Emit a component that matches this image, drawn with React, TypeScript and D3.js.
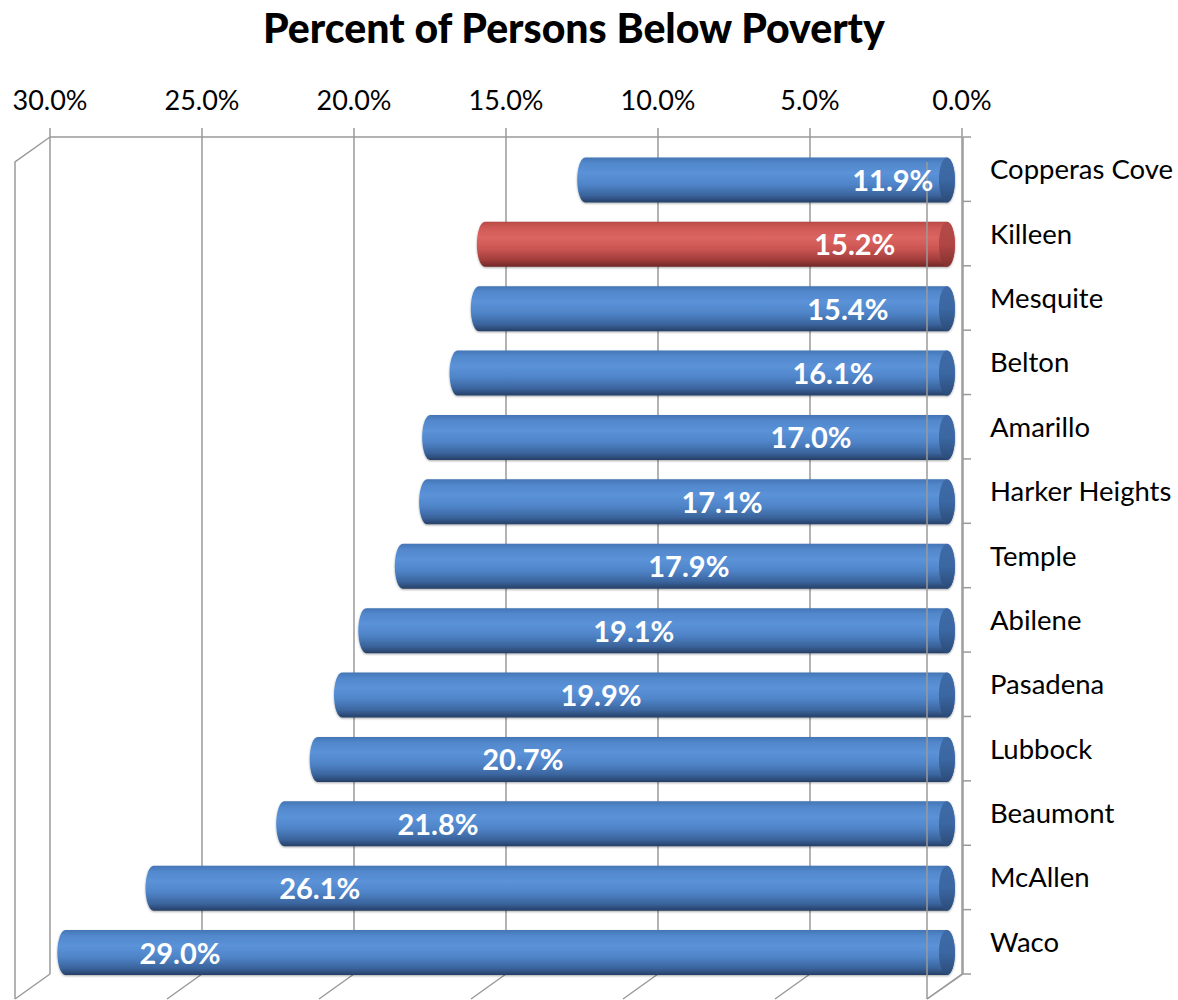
import React from "react";
import * as d3 from "d3";

const categories = [
  "Copperas Cove", "Killeen", "Mesquite", "Belton", "Amarillo", "Harker Heights",
  "Temple", "Abilene", "Pasadena", "Lubbock", "Beaumont", "McAllen", "Waco",
];
const values = [11.9, 15.2, 15.4, 16.1, 17.0, 17.1, 17.9, 19.1, 19.9, 20.7, 21.8, 26.1, 29.0];
// where the value label sits along the axis (in %)
const labelAnchor = [1.78, 3.03, 3.26, 3.75, 4.47, 7.4, 8.49, 10.3, 11.38, 13.95, 16.74, 20.63, 25.23];
const highlighted = ["Killeen"];
const ticks = [30, 25, 20, 15, 10, 5, 0];
const title = "Percent of Persons Below Poverty";

const W = 1178, H = 1000;
const FONT = "Lato, 'Open Sans', sans-serif";

export default function App() {
  // back wall
  const x = d3.scaleLinear().domain([30, 0]).range([50, 962]);
  const y = d3.scaleBand().domain(categories).range([137, 974]).paddingInner(0).paddingOuter(0);
  const depth = { dx: -35, dy: 25 };
  const barF = 0.43; // bar depth fraction
  const bdx = depth.dx * barF, bdy = depth.dy * barF;
  const r = 22.5, rx = 8;
  const grid = "#9a9a9a";
  const fmt = (v: number) => v.toFixed(1) + "%";

  const bodyPath = (x1: number, x0: number, cy: number) => {
    const t = cy - r, b = cy + r;
    return `M${x1},${t} L${x0},${t} A${rx},${r} 0 0 1 ${x0},${b} L${x1},${b} A${rx},${r} 0 0 1 ${x1},${t} Z`;
  };

  return (
    <svg width={W} height={H} style={{ position: "absolute", left: 0, top: 0, background: "#fff" }} fontFamily={FONT}>
      <defs>
        <linearGradient id="gBlue" x1="0" y1="0" x2="0" y2="1">
          <stop offset="0" stopColor="#4475b5" />
          <stop offset="0.12" stopColor="#5187cb" />
          <stop offset="0.35" stopColor="#5b92d8" />
          <stop offset="0.6" stopColor="#4f84c8" />
          <stop offset="0.85" stopColor="#3a639b" />
          <stop offset="1" stopColor="#263f66" />
        </linearGradient>
        <linearGradient id="gRed" x1="0" y1="0" x2="0" y2="1">
          <stop offset="0" stopColor="#b84a47" />
          <stop offset="0.12" stopColor="#cd5855" />
          <stop offset="0.35" stopColor="#dc6561" />
          <stop offset="0.6" stopColor="#cb5552" />
          <stop offset="0.85" stopColor="#9f3c3a" />
          <stop offset="1" stopColor="#6f2726" />
        </linearGradient>
        <linearGradient id="cBlue" x1="0" y1="0" x2="0" y2="1">
          <stop offset="0" stopColor="#3d6aa6" />
          <stop offset="0.5" stopColor="#3b67a2" />
          <stop offset="1" stopColor="#2b4b78" />
        </linearGradient>
        <linearGradient id="cRed" x1="0" y1="0" x2="0" y2="1">
          <stop offset="0" stopColor="#b44a47" />
          <stop offset="0.5" stopColor="#b04644" />
          <stop offset="1" stopColor="#83302e" />
        </linearGradient>
        <filter id="sh" x="-5%" y="-30%" width="110%" height="160%">
          <feGaussianBlur in="SourceAlpha" stdDeviation="1.2" />
          <feOffset dx="0" dy="1" result="o" />
          <feComponentTransfer><feFuncA type="linear" slope="0.35" /></feComponentTransfer>
          <feMerge><feMergeNode /><feMergeNode in="SourceGraphic" /></feMerge>
        </filter>
      </defs>

      <text x={574} y={43} textAnchor="middle" fontSize={41} fontWeight="900" fill="#000">{title}</text>

      {/* top axis labels & ticks */}
      {ticks.map((t) => (
        <g key={t}>
          <text x={x(t)} y={110} textAnchor="middle" fontSize={27} fill="#000">{fmt(t)}</text>
          <line x1={x(t)} x2={x(t)} y1={128} y2={137} stroke={grid} strokeWidth={1.5} />
          <line x1={x(t)} x2={x(t)} y1={137} y2={974} stroke={grid} strokeWidth={1.5} />
          <line x1={x(t)} x2={x(t) + depth.dx} y1={974} y2={974 + depth.dy} stroke={grid} strokeWidth={1.5} />
        </g>
      ))}
      <line x1={x(30)} x2={x(0)} y1={137} y2={137} stroke={grid} strokeWidth={1.5} />
      {/* left side wall */}
      <polyline points={`${x(30)},137 ${x(30) + depth.dx},${137 + depth.dy} ${x(30) + depth.dx},${974 + depth.dy}`} fill="none" stroke={grid} strokeWidth={1.5} />
      {/* right axis */}
      <line x1={x(0) + 1} x2={x(0) + 1} y1={137} y2={974} stroke={grid} strokeWidth={1.5} />
      {d3.range(categories.length + 1).map((i) => {
        const yy = 137 + i * y.step();
        return <line key={i} x1={x(0) + 1} x2={x(0) + 9} y1={yy} y2={yy} stroke={grid} strokeWidth={1.5} />;
      })}

      {/* bars */}
      {categories.map((c, i) => {
        const v = values[i];
        const hi = highlighted.includes(c);
        const cy = (y(c) as number) + y.bandwidth() / 2 + bdy;
        const x0 = x(0) + bdx;
        const x1 = x(v) + bdx;
        return (
          <g key={c} filter="url(#sh)">
            <path d={bodyPath(x1, x0, cy)} fill={hi ? "url(#gRed)" : "url(#gBlue)"} />
            <ellipse cx={x0} cy={cy} rx={rx} ry={r} fill={hi ? "url(#cRed)" : "url(#cBlue)"} />
          </g>
        );
      })}

      {/* front right edge */}
      <line x1={x(0) + depth.dx} x2={x(0) + depth.dx} y1={137 + depth.dy} y2={974 + depth.dy} stroke={grid} strokeWidth={1.5} />
      <line x1={x(0) + 1} x2={x(0) + depth.dx} y1={974} y2={974 + depth.dy} stroke={grid} strokeWidth={1.5} />

      {/* value labels */}
      {categories.map((c, i) => {
        const cy = (y(c) as number) + y.bandwidth() / 2 + bdy;
        return (
          <text key={c} x={x(labelAnchor[i]) + bdx} y={cy + 11} textAnchor="middle" fontSize={29} fontWeight="bold" fill="#fff">
            {fmt(values[i])}
          </text>
        );
      })}

      {/* category labels */}
      {categories.map((c) => (
        <text key={c} x={990} y={(y(c) as number) + y.bandwidth() / 2 + 10} fontSize={27.5} fill="#000">{c}</text>
      ))}
    </svg>
  );
}
